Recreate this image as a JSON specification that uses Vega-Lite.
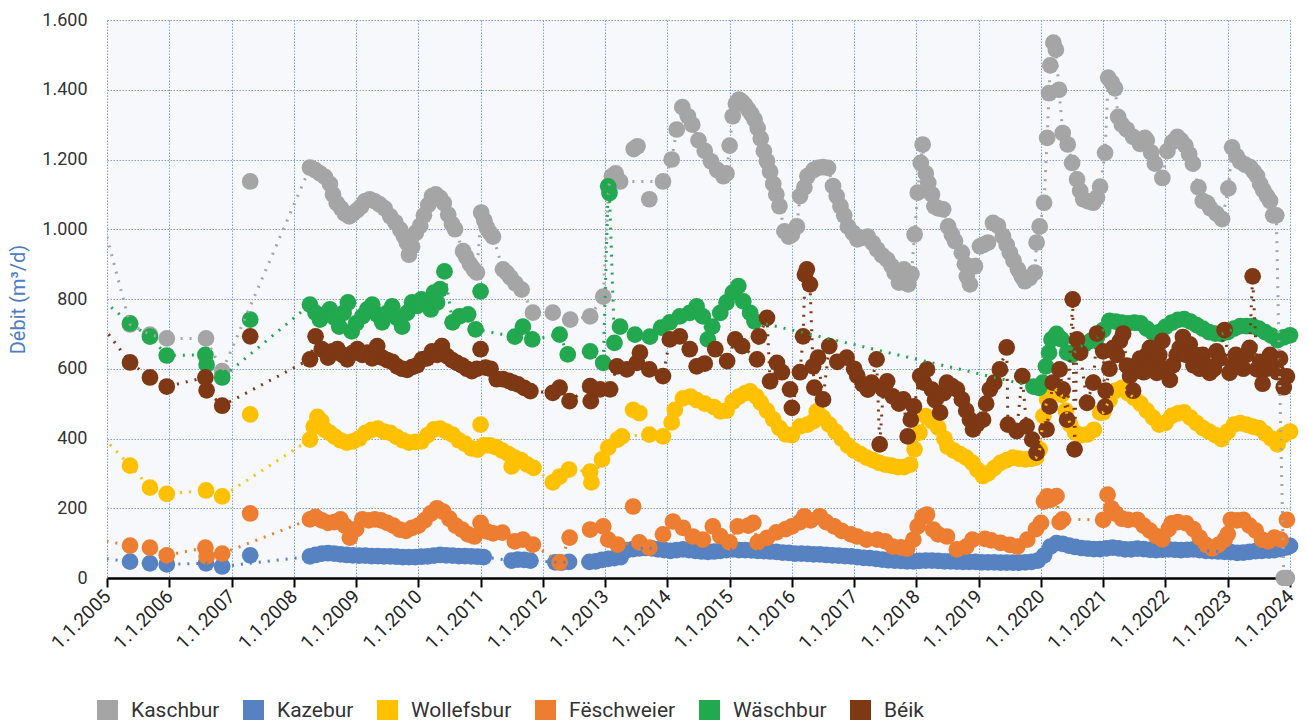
{
"$schema": "https://vega.github.io/schema/vega-lite/v6.json",
"width": 1183, "height": 558,
"autosize": {"type": "none"},
"padding": {"left": 107, "top": 20, "right": 17, "bottom": 142},
"background": "white",
"config": {"view": {"fill": "#F6F8FC", "stroke": null}, "font": "Roboto"},
"data": {"values": [
{"s":"Kaschbur","t":2004.85,"v":1078},{"s":"Kaschbur","t":2005.37,"v":727},{"s":"Kaschbur","t":2005.69,"v":698},{"s":"Kaschbur","t":2005.96,"v":687},{"s":"Kaschbur","t":2006.59,"v":687},{"s":"Kaschbur","t":2006.85,"v":593},{"s":"Kaschbur","t":2007.30,"v":1137,"spot":1},{"s":"Kaschbur","t":2008.26,"v":1177},{"s":"Kaschbur","t":2008.34,"v":1170},{"s":"Kaschbur","t":2008.42,"v":1160},{"s":"Kaschbur","t":2008.50,"v":1150},{"s":"Kaschbur","t":2008.58,"v":1130},{"s":"Kaschbur","t":2008.63,"v":1100},{"s":"Kaschbur","t":2008.69,"v":1075},{"s":"Kaschbur","t":2008.76,"v":1060},{"s":"Kaschbur","t":2008.82,"v":1045},{"s":"Kaschbur","t":2008.89,"v":1037},{"s":"Kaschbur","t":2008.95,"v":1045},{"s":"Kaschbur","t":2009.02,"v":1055},{"s":"Kaschbur","t":2009.08,"v":1065},{"s":"Kaschbur","t":2009.14,"v":1080},{"s":"Kaschbur","t":2009.22,"v":1086},{"s":"Kaschbur","t":2009.30,"v":1080},{"s":"Kaschbur","t":2009.38,"v":1071},{"s":"Kaschbur","t":2009.46,"v":1060},{"s":"Kaschbur","t":2009.55,"v":1037},{"s":"Kaschbur","t":2009.63,"v":1020},{"s":"Kaschbur","t":2009.71,"v":999},{"s":"Kaschbur","t":2009.77,"v":980},{"s":"Kaschbur","t":2009.82,"v":960},{"s":"Kaschbur","t":2009.85,"v":927},{"s":"Kaschbur","t":2009.90,"v":950},{"s":"Kaschbur","t":2009.96,"v":990},{"s":"Kaschbur","t":2010.03,"v":1010},{"s":"Kaschbur","t":2010.09,"v":1040},{"s":"Kaschbur","t":2010.16,"v":1070},{"s":"Kaschbur","t":2010.22,"v":1095},{"s":"Kaschbur","t":2010.28,"v":1100},{"s":"Kaschbur","t":2010.35,"v":1090},{"s":"Kaschbur","t":2010.41,"v":1075},{"s":"Kaschbur","t":2010.48,"v":1042},{"s":"Kaschbur","t":2010.54,"v":1015},{"s":"Kaschbur","t":2010.59,"v":1000},{"s":"Kaschbur","t":2010.72,"v":937},{"s":"Kaschbur","t":2010.77,"v":920},{"s":"Kaschbur","t":2010.83,"v":900},{"s":"Kaschbur","t":2010.89,"v":885},{"s":"Kaschbur","t":2010.94,"v":876},{"s":"Kaschbur","t":2011.01,"v":1048},{"s":"Kaschbur","t":2011.06,"v":1025},{"s":"Kaschbur","t":2011.10,"v":1005},{"s":"Kaschbur","t":2011.15,"v":990},{"s":"Kaschbur","t":2011.20,"v":979},{"s":"Kaschbur","t":2011.36,"v":885},{"s":"Kaschbur","t":2011.42,"v":875},{"s":"Kaschbur","t":2011.48,"v":862},{"s":"Kaschbur","t":2011.56,"v":845},{"s":"Kaschbur","t":2011.66,"v":827},{"s":"Kaschbur","t":2011.84,"v":761},{"s":"Kaschbur","t":2012.16,"v":761},{"s":"Kaschbur","t":2012.44,"v":741},{"s":"Kaschbur","t":2012.76,"v":750},{"s":"Kaschbur","t":2012.97,"v":807},{"s":"Kaschbur","t":2013.06,"v":1125},{"s":"Kaschbur","t":2013.11,"v":1152},{"s":"Kaschbur","t":2013.17,"v":1160},{"s":"Kaschbur","t":2013.24,"v":1137},{"s":"Kaschbur","t":2013.46,"v":1230,"spot":1},{"s":"Kaschbur","t":2013.52,"v":1238,"spot":1},{"s":"Kaschbur","t":2013.71,"v":1086,"spot":1},{"s":"Kaschbur","t":2013.93,"v":1137},{"s":"Kaschbur","t":2014.07,"v":1200},{"s":"Kaschbur","t":2014.15,"v":1286},{"s":"Kaschbur","t":2014.24,"v":1350},{"s":"Kaschbur","t":2014.33,"v":1324},{"s":"Kaschbur","t":2014.40,"v":1300},{"s":"Kaschbur","t":2014.50,"v":1255},{"s":"Kaschbur","t":2014.60,"v":1225},{"s":"Kaschbur","t":2014.70,"v":1195},{"s":"Kaschbur","t":2014.80,"v":1170},{"s":"Kaschbur","t":2014.90,"v":1152},{"s":"Kaschbur","t":2014.95,"v":1160},{"s":"Kaschbur","t":2015.00,"v":1240},{"s":"Kaschbur","t":2015.05,"v":1324},{"s":"Kaschbur","t":2015.10,"v":1360},{"s":"Kaschbur","t":2015.15,"v":1372},{"s":"Kaschbur","t":2015.20,"v":1365},{"s":"Kaschbur","t":2015.25,"v":1355},{"s":"Kaschbur","t":2015.30,"v":1343},{"s":"Kaschbur","t":2015.35,"v":1330},{"s":"Kaschbur","t":2015.40,"v":1315},{"s":"Kaschbur","t":2015.45,"v":1290},{"s":"Kaschbur","t":2015.50,"v":1260},{"s":"Kaschbur","t":2015.55,"v":1224},{"s":"Kaschbur","t":2015.60,"v":1195},{"s":"Kaschbur","t":2015.65,"v":1165},{"s":"Kaschbur","t":2015.70,"v":1130},{"s":"Kaschbur","t":2015.75,"v":1100},{"s":"Kaschbur","t":2015.80,"v":1066},{"s":"Kaschbur","t":2015.88,"v":994},{"s":"Kaschbur","t":2015.95,"v":979},{"s":"Kaschbur","t":2016.00,"v":985},{"s":"Kaschbur","t":2016.08,"v":1008},{"s":"Kaschbur","t":2016.13,"v":1095},{"s":"Kaschbur","t":2016.20,"v":1120},{"s":"Kaschbur","t":2016.25,"v":1152},{"s":"Kaschbur","t":2016.35,"v":1170},{"s":"Kaschbur","t":2016.42,"v":1176},{"s":"Kaschbur","t":2016.50,"v":1178},{"s":"Kaschbur","t":2016.58,"v":1176},{"s":"Kaschbur","t":2016.66,"v":1124},{"s":"Kaschbur","t":2016.72,"v":1095},{"s":"Kaschbur","t":2016.78,"v":1066},{"s":"Kaschbur","t":2016.84,"v":1040},{"s":"Kaschbur","t":2016.90,"v":1008},{"s":"Kaschbur","t":2016.98,"v":990},{"s":"Kaschbur","t":2017.05,"v":971},{"s":"Kaschbur","t":2017.12,"v":975},{"s":"Kaschbur","t":2017.22,"v":979},{"s":"Kaschbur","t":2017.30,"v":960},{"s":"Kaschbur","t":2017.37,"v":942},{"s":"Kaschbur","t":2017.45,"v":925},{"s":"Kaschbur","t":2017.53,"v":913},{"s":"Kaschbur","t":2017.60,"v":895},{"s":"Kaschbur","t":2017.65,"v":876},{"s":"Kaschbur","t":2017.72,"v":847},{"s":"Kaschbur","t":2017.80,"v":885},{"s":"Kaschbur","t":2017.87,"v":842},{"s":"Kaschbur","t":2017.92,"v":871},{"s":"Kaschbur","t":2017.97,"v":985},{"s":"Kaschbur","t":2018.02,"v":1105},{"s":"Kaschbur","t":2018.07,"v":1190},{"s":"Kaschbur","t":2018.10,"v":1243},{"s":"Kaschbur","t":2018.15,"v":1160},{"s":"Kaschbur","t":2018.19,"v":1133},{"s":"Kaschbur","t":2018.25,"v":1100},{"s":"Kaschbur","t":2018.29,"v":1066},{"s":"Kaschbur","t":2018.35,"v":1060},{"s":"Kaschbur","t":2018.43,"v":1057},{"s":"Kaschbur","t":2018.51,"v":1008},{"s":"Kaschbur","t":2018.57,"v":985},{"s":"Kaschbur","t":2018.62,"v":966},{"s":"Kaschbur","t":2018.73,"v":933},{"s":"Kaschbur","t":2018.78,"v":900},{"s":"Kaschbur","t":2018.81,"v":865},{"s":"Kaschbur","t":2018.86,"v":842},{"s":"Kaschbur","t":2018.94,"v":894},{"s":"Kaschbur","t":2019.02,"v":951},{"s":"Kaschbur","t":2019.08,"v":955},{"s":"Kaschbur","t":2019.15,"v":962},{"s":"Kaschbur","t":2019.23,"v":1018},{"s":"Kaschbur","t":2019.31,"v":1010},{"s":"Kaschbur","t":2019.39,"v":980},{"s":"Kaschbur","t":2019.45,"v":955},{"s":"Kaschbur","t":2019.50,"v":933},{"s":"Kaschbur","t":2019.56,"v":910},{"s":"Kaschbur","t":2019.63,"v":885},{"s":"Kaschbur","t":2019.69,"v":865},{"s":"Kaschbur","t":2019.74,"v":851},{"s":"Kaschbur","t":2019.82,"v":860},{"s":"Kaschbur","t":2019.90,"v":876},{"s":"Kaschbur","t":2019.93,"v":962},{"s":"Kaschbur","t":2019.98,"v":1008},{"s":"Kaschbur","t":2020.05,"v":1076},{"s":"Kaschbur","t":2020.10,"v":1262},{"s":"Kaschbur","t":2020.13,"v":1390},{"s":"Kaschbur","t":2020.15,"v":1470},{"s":"Kaschbur","t":2020.20,"v":1535},{"s":"Kaschbur","t":2020.24,"v":1515},{"s":"Kaschbur","t":2020.29,"v":1400},{"s":"Kaschbur","t":2020.35,"v":1276},{"s":"Kaschbur","t":2020.43,"v":1243},{"s":"Kaschbur","t":2020.50,"v":1190},{"s":"Kaschbur","t":2020.58,"v":1143},{"s":"Kaschbur","t":2020.63,"v":1110},{"s":"Kaschbur","t":2020.68,"v":1086},{"s":"Kaschbur","t":2020.76,"v":1080},{"s":"Kaschbur","t":2020.84,"v":1076},{"s":"Kaschbur","t":2020.90,"v":1091},{"s":"Kaschbur","t":2020.95,"v":1122},{"s":"Kaschbur","t":2021.03,"v":1219},{"s":"Kaschbur","t":2021.08,"v":1435},{"s":"Kaschbur","t":2021.14,"v":1420},{"s":"Kaschbur","t":2021.19,"v":1404},{"s":"Kaschbur","t":2021.24,"v":1322},{"s":"Kaschbur","t":2021.30,"v":1300},{"s":"Kaschbur","t":2021.38,"v":1286},{"s":"Kaschbur","t":2021.48,"v":1265},{"s":"Kaschbur","t":2021.59,"v":1245},{"s":"Kaschbur","t":2021.67,"v":1262},{"s":"Kaschbur","t":2021.70,"v":1255},{"s":"Kaschbur","t":2021.77,"v":1220},{"s":"Kaschbur","t":2021.83,"v":1188},{"s":"Kaschbur","t":2021.95,"v":1147},{"s":"Kaschbur","t":2022.03,"v":1224},{"s":"Kaschbur","t":2022.11,"v":1250},{"s":"Kaschbur","t":2022.19,"v":1265},{"s":"Kaschbur","t":2022.25,"v":1255},{"s":"Kaschbur","t":2022.32,"v":1240},{"s":"Kaschbur","t":2022.38,"v":1215},{"s":"Kaschbur","t":2022.44,"v":1188},{"s":"Kaschbur","t":2022.53,"v":1120},{"s":"Kaschbur","t":2022.60,"v":1081},{"s":"Kaschbur","t":2022.67,"v":1075},{"s":"Kaschbur","t":2022.72,"v":1060},{"s":"Kaschbur","t":2022.82,"v":1045},{"s":"Kaschbur","t":2022.91,"v":1029},{"s":"Kaschbur","t":2023.01,"v":1117},{"s":"Kaschbur","t":2023.07,"v":1235},{"s":"Kaschbur","t":2023.14,"v":1210},{"s":"Kaschbur","t":2023.20,"v":1194},{"s":"Kaschbur","t":2023.28,"v":1185},{"s":"Kaschbur","t":2023.36,"v":1178},{"s":"Kaschbur","t":2023.42,"v":1165},{"s":"Kaschbur","t":2023.47,"v":1153},{"s":"Kaschbur","t":2023.52,"v":1130},{"s":"Kaschbur","t":2023.57,"v":1112},{"s":"Kaschbur","t":2023.63,"v":1095},{"s":"Kaschbur","t":2023.68,"v":1081},{"s":"Kaschbur","t":2023.73,"v":1040},{"s":"Kaschbur","t":2023.78,"v":1040},{"s":"Kaschbur","t":2023.90,"v":0},{"s":"Kaschbur","t":2023.95,"v":0},
{"s":"Kazebur","t":2004.85,"v":58},{"s":"Kazebur","t":2005.37,"v":47},{"s":"Kazebur","t":2005.69,"v":42},{"s":"Kazebur","t":2005.96,"v":39},{"s":"Kazebur","t":2006.59,"v":42},{"s":"Kazebur","t":2006.85,"v":33},{"s":"Kazebur","t":2007.30,"v":65,"spot":1},{"s":"Kazebur","t":2008.26,"v":62},{"s":"Kazebur","t":2008.35,"v":66},{"s":"Kazebur","t":2008.45,"v":70},{"s":"Kazebur","t":2008.55,"v":71},{"s":"Kazebur","t":2008.65,"v":70},{"s":"Kazebur","t":2008.75,"v":68},{"s":"Kazebur","t":2008.85,"v":66},{"s":"Kazebur","t":2008.95,"v":65},{"s":"Kazebur","t":2009.05,"v":64},{"s":"Kazebur","t":2009.15,"v":64},{"s":"Kazebur","t":2009.25,"v":63},{"s":"Kazebur","t":2009.35,"v":63},{"s":"Kazebur","t":2009.45,"v":62},{"s":"Kazebur","t":2009.55,"v":62},{"s":"Kazebur","t":2009.65,"v":61},{"s":"Kazebur","t":2009.75,"v":60},{"s":"Kazebur","t":2009.85,"v":60},{"s":"Kazebur","t":2009.95,"v":60},{"s":"Kazebur","t":2010.05,"v":61},{"s":"Kazebur","t":2010.15,"v":62},{"s":"Kazebur","t":2010.25,"v":64},{"s":"Kazebur","t":2010.35,"v":66},{"s":"Kazebur","t":2010.45,"v":65},{"s":"Kazebur","t":2010.55,"v":64},{"s":"Kazebur","t":2010.65,"v":63},{"s":"Kazebur","t":2010.75,"v":63},{"s":"Kazebur","t":2010.85,"v":62},{"s":"Kazebur","t":2010.95,"v":61},{"s":"Kazebur","t":2011.05,"v":60},{"s":"Kazebur","t":2011.50,"v":50},{"s":"Kazebur","t":2011.60,"v":53},{"s":"Kazebur","t":2011.70,"v":52},{"s":"Kazebur","t":2011.80,"v":50},{"s":"Kazebur","t":2012.20,"v":45},{"s":"Kazebur","t":2012.30,"v":44},{"s":"Kazebur","t":2012.42,"v":46},{"s":"Kazebur","t":2012.75,"v":46},{"s":"Kazebur","t":2012.85,"v":48},{"s":"Kazebur","t":2012.95,"v":52},{"s":"Kazebur","t":2013.05,"v":55},{"s":"Kazebur","t":2013.15,"v":57},{"s":"Kazebur","t":2013.25,"v":60},{"s":"Kazebur","t":2013.35,"v":80},{"s":"Kazebur","t":2013.45,"v":83},{"s":"Kazebur","t":2013.55,"v":85},{"s":"Kazebur","t":2013.65,"v":86},{"s":"Kazebur","t":2013.75,"v":85},{"s":"Kazebur","t":2013.85,"v":82},{"s":"Kazebur","t":2013.95,"v":80},{"s":"Kazebur","t":2014.05,"v":78},{"s":"Kazebur","t":2014.15,"v":80},{"s":"Kazebur","t":2014.25,"v":82},{"s":"Kazebur","t":2014.35,"v":80},{"s":"Kazebur","t":2014.45,"v":78},{"s":"Kazebur","t":2014.55,"v":76},{"s":"Kazebur","t":2014.65,"v":75},{"s":"Kazebur","t":2014.75,"v":76},{"s":"Kazebur","t":2014.85,"v":78},{"s":"Kazebur","t":2014.95,"v":80},{"s":"Kazebur","t":2015.05,"v":82},{"s":"Kazebur","t":2015.15,"v":80},{"s":"Kazebur","t":2015.25,"v":80},{"s":"Kazebur","t":2015.35,"v":79},{"s":"Kazebur","t":2015.45,"v":78},{"s":"Kazebur","t":2015.55,"v":77},{"s":"Kazebur","t":2015.65,"v":76},{"s":"Kazebur","t":2015.75,"v":75},{"s":"Kazebur","t":2015.85,"v":73},{"s":"Kazebur","t":2015.95,"v":72},{"s":"Kazebur","t":2016.05,"v":70},{"s":"Kazebur","t":2016.15,"v":70},{"s":"Kazebur","t":2016.25,"v":69},{"s":"Kazebur","t":2016.35,"v":68},{"s":"Kazebur","t":2016.45,"v":68},{"s":"Kazebur","t":2016.55,"v":66},{"s":"Kazebur","t":2016.65,"v":65},{"s":"Kazebur","t":2016.75,"v":64},{"s":"Kazebur","t":2016.85,"v":63},{"s":"Kazebur","t":2016.95,"v":62},{"s":"Kazebur","t":2017.05,"v":60},{"s":"Kazebur","t":2017.15,"v":58},{"s":"Kazebur","t":2017.25,"v":57},{"s":"Kazebur","t":2017.35,"v":55},{"s":"Kazebur","t":2017.45,"v":53},{"s":"Kazebur","t":2017.55,"v":51},{"s":"Kazebur","t":2017.65,"v":50},{"s":"Kazebur","t":2017.75,"v":49},{"s":"Kazebur","t":2017.85,"v":48},{"s":"Kazebur","t":2017.95,"v":48},{"s":"Kazebur","t":2018.05,"v":49},{"s":"Kazebur","t":2018.15,"v":50},{"s":"Kazebur","t":2018.25,"v":50},{"s":"Kazebur","t":2018.35,"v":49},{"s":"Kazebur","t":2018.45,"v":48},{"s":"Kazebur","t":2018.55,"v":48},{"s":"Kazebur","t":2018.65,"v":47},{"s":"Kazebur","t":2018.75,"v":46},{"s":"Kazebur","t":2018.85,"v":46},{"s":"Kazebur","t":2018.95,"v":46},{"s":"Kazebur","t":2019.05,"v":45},{"s":"Kazebur","t":2019.15,"v":45},{"s":"Kazebur","t":2019.25,"v":45},{"s":"Kazebur","t":2019.35,"v":44},{"s":"Kazebur","t":2019.45,"v":44},{"s":"Kazebur","t":2019.55,"v":44},{"s":"Kazebur","t":2019.65,"v":44},{"s":"Kazebur","t":2019.75,"v":45},{"s":"Kazebur","t":2019.85,"v":46},{"s":"Kazebur","t":2019.95,"v":50},{"s":"Kazebur","t":2020.05,"v":65},{"s":"Kazebur","t":2020.15,"v":90},{"s":"Kazebur","t":2020.25,"v":100},{"s":"Kazebur","t":2020.35,"v":98},{"s":"Kazebur","t":2020.45,"v":93},{"s":"Kazebur","t":2020.55,"v":89},{"s":"Kazebur","t":2020.65,"v":86},{"s":"Kazebur","t":2020.75,"v":84},{"s":"Kazebur","t":2020.85,"v":83},{"s":"Kazebur","t":2020.95,"v":83},{"s":"Kazebur","t":2021.05,"v":85},{"s":"Kazebur","t":2021.15,"v":87},{"s":"Kazebur","t":2021.25,"v":85},{"s":"Kazebur","t":2021.35,"v":82},{"s":"Kazebur","t":2021.45,"v":82},{"s":"Kazebur","t":2021.55,"v":84},{"s":"Kazebur","t":2021.65,"v":83},{"s":"Kazebur","t":2021.75,"v":81},{"s":"Kazebur","t":2021.85,"v":80},{"s":"Kazebur","t":2021.95,"v":81},{"s":"Kazebur","t":2022.05,"v":82},{"s":"Kazebur","t":2022.15,"v":81},{"s":"Kazebur","t":2022.25,"v":80},{"s":"Kazebur","t":2022.35,"v":81},{"s":"Kazebur","t":2022.45,"v":82},{"s":"Kazebur","t":2022.55,"v":80},{"s":"Kazebur","t":2022.65,"v":78},{"s":"Kazebur","t":2022.75,"v":77},{"s":"Kazebur","t":2022.85,"v":76},{"s":"Kazebur","t":2022.95,"v":75},{"s":"Kazebur","t":2023.05,"v":74},{"s":"Kazebur","t":2023.15,"v":72},{"s":"Kazebur","t":2023.25,"v":73},{"s":"Kazebur","t":2023.35,"v":75},{"s":"Kazebur","t":2023.45,"v":77},{"s":"Kazebur","t":2023.55,"v":78},{"s":"Kazebur","t":2023.65,"v":79},{"s":"Kazebur","t":2023.75,"v":80},{"s":"Kazebur","t":2023.85,"v":83},{"s":"Kazebur","t":2023.95,"v":88},{"s":"Kazebur","t":2024.00,"v":92},
{"s":"Wollefsbur","t":2004.85,"v":420},{"s":"Wollefsbur","t":2005.37,"v":322},{"s":"Wollefsbur","t":2005.69,"v":259},{"s":"Wollefsbur","t":2005.96,"v":241},{"s":"Wollefsbur","t":2006.59,"v":251},{"s":"Wollefsbur","t":2006.85,"v":234},{"s":"Wollefsbur","t":2007.30,"v":469,"spot":1},{"s":"Wollefsbur","t":2008.26,"v":397},{"s":"Wollefsbur","t":2008.32,"v":434},{"s":"Wollefsbur","t":2008.38,"v":462},{"s":"Wollefsbur","t":2008.44,"v":450},{"s":"Wollefsbur","t":2008.50,"v":425},{"s":"Wollefsbur","t":2008.58,"v":416},{"s":"Wollefsbur","t":2008.66,"v":405},{"s":"Wollefsbur","t":2008.75,"v":395},{"s":"Wollefsbur","t":2008.85,"v":388},{"s":"Wollefsbur","t":2008.95,"v":392},{"s":"Wollefsbur","t":2009.05,"v":400},{"s":"Wollefsbur","t":2009.15,"v":416},{"s":"Wollefsbur","t":2009.25,"v":425},{"s":"Wollefsbur","t":2009.35,"v":428},{"s":"Wollefsbur","t":2009.45,"v":420},{"s":"Wollefsbur","t":2009.55,"v":416},{"s":"Wollefsbur","t":2009.65,"v":405},{"s":"Wollefsbur","t":2009.75,"v":395},{"s":"Wollefsbur","t":2009.85,"v":388},{"s":"Wollefsbur","t":2009.95,"v":390},{"s":"Wollefsbur","t":2010.05,"v":392},{"s":"Wollefsbur","t":2010.15,"v":410},{"s":"Wollefsbur","t":2010.25,"v":426},{"s":"Wollefsbur","t":2010.35,"v":428},{"s":"Wollefsbur","t":2010.45,"v":420},{"s":"Wollefsbur","t":2010.55,"v":411},{"s":"Wollefsbur","t":2010.65,"v":395},{"s":"Wollefsbur","t":2010.75,"v":385},{"s":"Wollefsbur","t":2010.85,"v":372},{"s":"Wollefsbur","t":2010.95,"v":368},{"s":"Wollefsbur","t":2011.00,"v":440,"spot":1},{"s":"Wollefsbur","t":2011.05,"v":380},{"s":"Wollefsbur","t":2011.15,"v":380},{"s":"Wollefsbur","t":2011.25,"v":375},{"s":"Wollefsbur","t":2011.35,"v":365},{"s":"Wollefsbur","t":2011.45,"v":355},{"s":"Wollefsbur","t":2011.50,"v":320},{"s":"Wollefsbur","t":2011.55,"v":345},{"s":"Wollefsbur","t":2011.65,"v":338},{"s":"Wollefsbur","t":2011.75,"v":325},{"s":"Wollefsbur","t":2011.85,"v":316},{"s":"Wollefsbur","t":2012.16,"v":274},{"s":"Wollefsbur","t":2012.27,"v":291},{"s":"Wollefsbur","t":2012.42,"v":311},{"s":"Wollefsbur","t":2012.76,"v":305},{"s":"Wollefsbur","t":2012.78,"v":274},{"s":"Wollefsbur","t":2012.95,"v":340},{"s":"Wollefsbur","t":2013.05,"v":374},{"s":"Wollefsbur","t":2013.20,"v":397},{"s":"Wollefsbur","t":2013.27,"v":406},{"s":"Wollefsbur","t":2013.45,"v":482,"spot":1},{"s":"Wollefsbur","t":2013.55,"v":473,"spot":1},{"s":"Wollefsbur","t":2013.71,"v":411},{"s":"Wollefsbur","t":2013.93,"v":406},{"s":"Wollefsbur","t":2014.07,"v":446},{"s":"Wollefsbur","t":2014.12,"v":482},{"s":"Wollefsbur","t":2014.25,"v":515},{"s":"Wollefsbur","t":2014.37,"v":520},{"s":"Wollefsbur","t":2014.47,"v":510},{"s":"Wollefsbur","t":2014.60,"v":500},{"s":"Wollefsbur","t":2014.75,"v":490},{"s":"Wollefsbur","t":2014.85,"v":478},{"s":"Wollefsbur","t":2014.95,"v":480},{"s":"Wollefsbur","t":2015.05,"v":506},{"s":"Wollefsbur","t":2015.15,"v":520},{"s":"Wollefsbur","t":2015.25,"v":530},{"s":"Wollefsbur","t":2015.33,"v":535},{"s":"Wollefsbur","t":2015.43,"v":520},{"s":"Wollefsbur","t":2015.50,"v":503},{"s":"Wollefsbur","t":2015.60,"v":480},{"s":"Wollefsbur","t":2015.70,"v":455},{"s":"Wollefsbur","t":2015.80,"v":430},{"s":"Wollefsbur","t":2015.90,"v":412},{"s":"Wollefsbur","t":2016.00,"v":410},{"s":"Wollefsbur","t":2016.13,"v":435},{"s":"Wollefsbur","t":2016.25,"v":440},{"s":"Wollefsbur","t":2016.35,"v":450},{"s":"Wollefsbur","t":2016.40,"v":478},{"s":"Wollefsbur","t":2016.50,"v":460},{"s":"Wollefsbur","t":2016.60,"v":440},{"s":"Wollefsbur","t":2016.70,"v":420},{"s":"Wollefsbur","t":2016.80,"v":400},{"s":"Wollefsbur","t":2016.90,"v":380},{"s":"Wollefsbur","t":2017.00,"v":365},{"s":"Wollefsbur","t":2017.10,"v":355},{"s":"Wollefsbur","t":2017.20,"v":345},{"s":"Wollefsbur","t":2017.30,"v":338},{"s":"Wollefsbur","t":2017.40,"v":330},{"s":"Wollefsbur","t":2017.50,"v":325},{"s":"Wollefsbur","t":2017.60,"v":322},{"s":"Wollefsbur","t":2017.70,"v":318},{"s":"Wollefsbur","t":2017.80,"v":318},{"s":"Wollefsbur","t":2017.90,"v":325},{"s":"Wollefsbur","t":2017.97,"v":369},{"s":"Wollefsbur","t":2018.05,"v":417},{"s":"Wollefsbur","t":2018.15,"v":464},{"s":"Wollefsbur","t":2018.25,"v":450},{"s":"Wollefsbur","t":2018.35,"v":431},{"s":"Wollefsbur","t":2018.45,"v":400},{"s":"Wollefsbur","t":2018.50,"v":377},{"s":"Wollefsbur","t":2018.60,"v":365},{"s":"Wollefsbur","t":2018.70,"v":355},{"s":"Wollefsbur","t":2018.80,"v":345},{"s":"Wollefsbur","t":2018.90,"v":330},{"s":"Wollefsbur","t":2018.98,"v":310},{"s":"Wollefsbur","t":2019.07,"v":292},{"s":"Wollefsbur","t":2019.15,"v":300},{"s":"Wollefsbur","t":2019.25,"v":315},{"s":"Wollefsbur","t":2019.35,"v":330},{"s":"Wollefsbur","t":2019.45,"v":338},{"s":"Wollefsbur","t":2019.55,"v":345},{"s":"Wollefsbur","t":2019.65,"v":342},{"s":"Wollefsbur","t":2019.75,"v":340},{"s":"Wollefsbur","t":2019.85,"v":342},{"s":"Wollefsbur","t":2019.92,"v":345},{"s":"Wollefsbur","t":2019.98,"v":369},{"s":"Wollefsbur","t":2020.04,"v":464},{"s":"Wollefsbur","t":2020.10,"v":512},{"s":"Wollefsbur","t":2020.18,"v":530},{"s":"Wollefsbur","t":2020.25,"v":540},{"s":"Wollefsbur","t":2020.33,"v":525},{"s":"Wollefsbur","t":2020.40,"v":480},{"s":"Wollefsbur","t":2020.47,"v":440},{"s":"Wollefsbur","t":2020.55,"v":417},{"s":"Wollefsbur","t":2020.65,"v":410},{"s":"Wollefsbur","t":2020.75,"v":412},{"s":"Wollefsbur","t":2020.85,"v":425},{"s":"Wollefsbur","t":2020.95,"v":474},{"s":"Wollefsbur","t":2021.00,"v":475},{"s":"Wollefsbur","t":2021.10,"v":510},{"s":"Wollefsbur","t":2021.20,"v":537},{"s":"Wollefsbur","t":2021.30,"v":545},{"s":"Wollefsbur","t":2021.40,"v":530},{"s":"Wollefsbur","t":2021.50,"v":516},{"s":"Wollefsbur","t":2021.60,"v":500},{"s":"Wollefsbur","t":2021.70,"v":480},{"s":"Wollefsbur","t":2021.80,"v":460},{"s":"Wollefsbur","t":2021.90,"v":440},{"s":"Wollefsbur","t":2022.00,"v":445},{"s":"Wollefsbur","t":2022.10,"v":465},{"s":"Wollefsbur","t":2022.20,"v":472},{"s":"Wollefsbur","t":2022.30,"v":475},{"s":"Wollefsbur","t":2022.40,"v":460},{"s":"Wollefsbur","t":2022.50,"v":444},{"s":"Wollefsbur","t":2022.60,"v":430},{"s":"Wollefsbur","t":2022.70,"v":420},{"s":"Wollefsbur","t":2022.80,"v":410},{"s":"Wollefsbur","t":2022.90,"v":398},{"s":"Wollefsbur","t":2023.00,"v":420},{"s":"Wollefsbur","t":2023.10,"v":440},{"s":"Wollefsbur","t":2023.20,"v":444},{"s":"Wollefsbur","t":2023.30,"v":440},{"s":"Wollefsbur","t":2023.40,"v":434},{"s":"Wollefsbur","t":2023.50,"v":430},{"s":"Wollefsbur","t":2023.60,"v":415},{"s":"Wollefsbur","t":2023.70,"v":400},{"s":"Wollefsbur","t":2023.80,"v":383},{"s":"Wollefsbur","t":2023.90,"v":410},{"s":"Wollefsbur","t":2024.00,"v":420},
{"s":"Fëschweier","t":2004.85,"v":110},{"s":"Fëschweier","t":2005.37,"v":93},{"s":"Fëschweier","t":2005.69,"v":87},{"s":"Fëschweier","t":2005.96,"v":65},{"s":"Fëschweier","t":2006.58,"v":87},{"s":"Fëschweier","t":2006.60,"v":62},{"s":"Fëschweier","t":2006.85,"v":70},{"s":"Fëschweier","t":2007.30,"v":185,"spot":1},{"s":"Fëschweier","t":2008.26,"v":168},{"s":"Fëschweier","t":2008.35,"v":175},{"s":"Fëschweier","t":2008.45,"v":165},{"s":"Fëschweier","t":2008.55,"v":158},{"s":"Fëschweier","t":2008.65,"v":160},{"s":"Fëschweier","t":2008.75,"v":168},{"s":"Fëschweier","t":2008.82,"v":150},{"s":"Fëschweier","t":2008.90,"v":116},{"s":"Fëschweier","t":2009.00,"v":140},{"s":"Fëschweier","t":2009.10,"v":168},{"s":"Fëschweier","t":2009.20,"v":165},{"s":"Fëschweier","t":2009.30,"v":168},{"s":"Fëschweier","t":2009.40,"v":165},{"s":"Fëschweier","t":2009.50,"v":158},{"s":"Fëschweier","t":2009.60,"v":150},{"s":"Fëschweier","t":2009.70,"v":139},{"s":"Fëschweier","t":2009.80,"v":135},{"s":"Fëschweier","t":2009.90,"v":144},{"s":"Fëschweier","t":2010.00,"v":150},{"s":"Fëschweier","t":2010.10,"v":165},{"s":"Fëschweier","t":2010.20,"v":185},{"s":"Fëschweier","t":2010.30,"v":200},{"s":"Fëschweier","t":2010.40,"v":190},{"s":"Fëschweier","t":2010.50,"v":170},{"s":"Fëschweier","t":2010.60,"v":150},{"s":"Fëschweier","t":2010.70,"v":139},{"s":"Fëschweier","t":2010.80,"v":125},{"s":"Fëschweier","t":2010.90,"v":119},{"s":"Fëschweier","t":2011.00,"v":158,"spot":1},{"s":"Fëschweier","t":2011.10,"v":134},{"s":"Fëschweier","t":2011.20,"v":128},{"s":"Fëschweier","t":2011.35,"v":130},{"s":"Fëschweier","t":2011.55,"v":105},{"s":"Fëschweier","t":2011.68,"v":110},{"s":"Fëschweier","t":2011.84,"v":96},{"s":"Fëschweier","t":2012.27,"v":45},{"s":"Fëschweier","t":2012.43,"v":116},{"s":"Fëschweier","t":2012.76,"v":139},{"s":"Fëschweier","t":2012.97,"v":148},{"s":"Fëschweier","t":2013.05,"v":110},{"s":"Fëschweier","t":2013.20,"v":96},{"s":"Fëschweier","t":2013.45,"v":205,"spot":1},{"s":"Fëschweier","t":2013.55,"v":102},{"s":"Fëschweier","t":2013.71,"v":87},{"s":"Fëschweier","t":2013.93,"v":125},{"s":"Fëschweier","t":2014.09,"v":162},{"s":"Fëschweier","t":2014.25,"v":144},{"s":"Fëschweier","t":2014.41,"v":119},{"s":"Fëschweier","t":2014.57,"v":110},{"s":"Fëschweier","t":2014.73,"v":148},{"s":"Fëschweier","t":2014.85,"v":120},{"s":"Fëschweier","t":2015.00,"v":102},{"s":"Fëschweier","t":2015.13,"v":148},{"s":"Fëschweier","t":2015.30,"v":150},{"s":"Fëschweier","t":2015.38,"v":158},{"s":"Fëschweier","t":2015.45,"v":102},{"s":"Fëschweier","t":2015.60,"v":115},{"s":"Fëschweier","t":2015.75,"v":131},{"s":"Fëschweier","t":2015.90,"v":140},{"s":"Fëschweier","t":2016.00,"v":148},{"s":"Fëschweier","t":2016.13,"v":160},{"s":"Fëschweier","t":2016.20,"v":177},{"s":"Fëschweier","t":2016.30,"v":165},{"s":"Fëschweier","t":2016.45,"v":177},{"s":"Fëschweier","t":2016.55,"v":160},{"s":"Fëschweier","t":2016.68,"v":148},{"s":"Fëschweier","t":2016.80,"v":135},{"s":"Fëschweier","t":2016.95,"v":125},{"s":"Fëschweier","t":2017.05,"v":119},{"s":"Fëschweier","t":2017.20,"v":110},{"s":"Fëschweier","t":2017.37,"v":110},{"s":"Fëschweier","t":2017.50,"v":105},{"s":"Fëschweier","t":2017.62,"v":90},{"s":"Fëschweier","t":2017.75,"v":88},{"s":"Fëschweier","t":2017.85,"v":84},{"s":"Fëschweier","t":2017.95,"v":110},{"s":"Fëschweier","t":2018.02,"v":148},{"s":"Fëschweier","t":2018.10,"v":175},{"s":"Fëschweier","t":2018.17,"v":182},{"s":"Fëschweier","t":2018.27,"v":139},{"s":"Fëschweier","t":2018.35,"v":125},{"s":"Fëschweier","t":2018.49,"v":119},{"s":"Fëschweier","t":2018.65,"v":82},{"s":"Fëschweier","t":2018.80,"v":90},{"s":"Fëschweier","t":2018.90,"v":110},{"s":"Fëschweier","t":2019.10,"v":112},{"s":"Fëschweier","t":2019.20,"v":108},{"s":"Fëschweier","t":2019.35,"v":101},{"s":"Fëschweier","t":2019.50,"v":95},{"s":"Fëschweier","t":2019.62,"v":90},{"s":"Fëschweier","t":2019.78,"v":110},{"s":"Fëschweier","t":2019.92,"v":140},{"s":"Fëschweier","t":2020.00,"v":158},{"s":"Fëschweier","t":2020.05,"v":220},{"s":"Fëschweier","t":2020.10,"v":234},{"s":"Fëschweier","t":2020.16,"v":225},{"s":"Fëschweier","t":2020.20,"v":230},{"s":"Fëschweier","t":2020.25,"v":235},{"s":"Fëschweier","t":2020.30,"v":160},{"s":"Fëschweier","t":2020.35,"v":168},{"s":"Fëschweier","t":2021.00,"v":167},{"s":"Fëschweier","t":2021.07,"v":239},{"s":"Fëschweier","t":2021.13,"v":200},{"s":"Fëschweier","t":2021.20,"v":185},{"s":"Fëschweier","t":2021.30,"v":170},{"s":"Fëschweier","t":2021.40,"v":167},{"s":"Fëschweier","t":2021.55,"v":167},{"s":"Fëschweier","t":2021.65,"v":150},{"s":"Fëschweier","t":2021.75,"v":136},{"s":"Fëschweier","t":2021.85,"v":120},{"s":"Fëschweier","t":2021.95,"v":111},{"s":"Fëschweier","t":2022.05,"v":140},{"s":"Fëschweier","t":2022.10,"v":157},{"s":"Fëschweier","t":2022.20,"v":160},{"s":"Fëschweier","t":2022.33,"v":157},{"s":"Fëschweier","t":2022.45,"v":140},{"s":"Fëschweier","t":2022.55,"v":116},{"s":"Fëschweier","t":2022.65,"v":95},{"s":"Fëschweier","t":2022.75,"v":85},{"s":"Fëschweier","t":2022.85,"v":95},{"s":"Fëschweier","t":2022.95,"v":110},{"s":"Fëschweier","t":2023.00,"v":126},{"s":"Fëschweier","t":2023.05,"v":167},{"s":"Fëschweier","t":2023.15,"v":165},{"s":"Fëschweier","t":2023.25,"v":167},{"s":"Fëschweier","t":2023.35,"v":150},{"s":"Fëschweier","t":2023.45,"v":136},{"s":"Fëschweier","t":2023.55,"v":110},{"s":"Fëschweier","t":2023.65,"v":105},{"s":"Fëschweier","t":2023.75,"v":116},{"s":"Fëschweier","t":2023.85,"v":110},{"s":"Fëschweier","t":2023.95,"v":167},
{"s":"Wäschbur","t":2004.85,"v":810},{"s":"Wäschbur","t":2005.37,"v":730},{"s":"Wäschbur","t":2005.69,"v":692},{"s":"Wäschbur","t":2005.96,"v":638},{"s":"Wäschbur","t":2006.58,"v":640},{"s":"Wäschbur","t":2006.60,"v":612},{"s":"Wäschbur","t":2006.85,"v":575},{"s":"Wäschbur","t":2007.30,"v":741,"spot":1},{"s":"Wäschbur","t":2008.26,"v":784},{"s":"Wäschbur","t":2008.35,"v":760},{"s":"Wäschbur","t":2008.42,"v":741},{"s":"Wäschbur","t":2008.50,"v":755},{"s":"Wäschbur","t":2008.58,"v":770},{"s":"Wäschbur","t":2008.66,"v":745},{"s":"Wäschbur","t":2008.73,"v":721},{"s":"Wäschbur","t":2008.80,"v":760},{"s":"Wäschbur","t":2008.87,"v":790},{"s":"Wäschbur","t":2008.93,"v":707},{"s":"Wäschbur","t":2009.00,"v":730},{"s":"Wäschbur","t":2009.10,"v":750},{"s":"Wäschbur","t":2009.18,"v":770},{"s":"Wäschbur","t":2009.26,"v":784},{"s":"Wäschbur","t":2009.34,"v":755},{"s":"Wäschbur","t":2009.42,"v":733},{"s":"Wäschbur","t":2009.50,"v":760},{"s":"Wäschbur","t":2009.58,"v":779},{"s":"Wäschbur","t":2009.66,"v":745},{"s":"Wäschbur","t":2009.74,"v":721},{"s":"Wäschbur","t":2009.82,"v":760},{"s":"Wäschbur","t":2009.90,"v":790},{"s":"Wäschbur","t":2009.98,"v":780},{"s":"Wäschbur","t":2010.05,"v":799},{"s":"Wäschbur","t":2010.13,"v":790},{"s":"Wäschbur","t":2010.20,"v":770},{"s":"Wäschbur","t":2010.25,"v":818},{"s":"Wäschbur","t":2010.30,"v":790},{"s":"Wäschbur","t":2010.35,"v":828},{"s":"Wäschbur","t":2010.42,"v":879},{"s":"Wäschbur","t":2010.55,"v":733},{"s":"Wäschbur","t":2010.66,"v":750},{"s":"Wäschbur","t":2010.80,"v":756},{"s":"Wäschbur","t":2010.92,"v":713},{"s":"Wäschbur","t":2011.00,"v":822,"spot":1},{"s":"Wäschbur","t":2011.55,"v":692},{"s":"Wäschbur","t":2011.68,"v":721},{"s":"Wäschbur","t":2011.83,"v":684},{"s":"Wäschbur","t":2012.27,"v":698},{"s":"Wäschbur","t":2012.40,"v":641},{"s":"Wäschbur","t":2012.76,"v":650},{"s":"Wäschbur","t":2012.97,"v":617},{"s":"Wäschbur","t":2013.05,"v":1123},{"s":"Wäschbur","t":2013.07,"v":1104},{"s":"Wäschbur","t":2013.15,"v":674},{"s":"Wäschbur","t":2013.24,"v":721},{"s":"Wäschbur","t":2013.48,"v":698},{"s":"Wäschbur","t":2013.72,"v":692},{"s":"Wäschbur","t":2013.90,"v":718},{"s":"Wäschbur","t":2014.04,"v":733},{"s":"Wäschbur","t":2014.20,"v":750},{"s":"Wäschbur","t":2014.36,"v":760},{"s":"Wäschbur","t":2014.47,"v":779},{"s":"Wäschbur","t":2014.57,"v":750},{"s":"Wäschbur","t":2014.65,"v":684},{"s":"Wäschbur","t":2014.72,"v":721},{"s":"Wäschbur","t":2014.85,"v":760},{"s":"Wäschbur","t":2014.95,"v":790},{"s":"Wäschbur","t":2015.05,"v":818},{"s":"Wäschbur","t":2015.14,"v":837},{"s":"Wäschbur","t":2015.22,"v":793},{"s":"Wäschbur","t":2015.33,"v":760},{"s":"Wäschbur","t":2015.40,"v":736},{"s":"Wäschbur","t":2019.88,"v":549},{"s":"Wäschbur","t":2019.97,"v":545},{"s":"Wäschbur","t":2020.03,"v":560},{"s":"Wäschbur","t":2020.08,"v":607},{"s":"Wäschbur","t":2020.13,"v":646},{"s":"Wäschbur","t":2020.17,"v":684},{"s":"Wäschbur","t":2020.25,"v":700},{"s":"Wäschbur","t":2020.33,"v":684},{"s":"Wäschbur","t":2020.42,"v":646},{"s":"Wäschbur","t":2020.50,"v":640},{"s":"Wäschbur","t":2020.60,"v":660},{"s":"Wäschbur","t":2020.70,"v":670},{"s":"Wäschbur","t":2020.80,"v":680},{"s":"Wäschbur","t":2020.90,"v":690},{"s":"Wäschbur","t":2021.00,"v":711},{"s":"Wäschbur","t":2021.10,"v":737},{"s":"Wäschbur","t":2021.20,"v":735},{"s":"Wäschbur","t":2021.30,"v":732},{"s":"Wäschbur","t":2021.40,"v":730},{"s":"Wäschbur","t":2021.50,"v":732},{"s":"Wäschbur","t":2021.60,"v":730},{"s":"Wäschbur","t":2021.70,"v":715},{"s":"Wäschbur","t":2021.80,"v":703},{"s":"Wäschbur","t":2021.90,"v":705},{"s":"Wäschbur","t":2022.00,"v":720},{"s":"Wäschbur","t":2022.10,"v":732},{"s":"Wäschbur","t":2022.20,"v":740},{"s":"Wäschbur","t":2022.30,"v":742},{"s":"Wäschbur","t":2022.40,"v":735},{"s":"Wäschbur","t":2022.50,"v":725},{"s":"Wäschbur","t":2022.60,"v":715},{"s":"Wäschbur","t":2022.70,"v":705},{"s":"Wäschbur","t":2022.80,"v":701},{"s":"Wäschbur","t":2022.90,"v":700},{"s":"Wäschbur","t":2023.00,"v":705},{"s":"Wäschbur","t":2023.10,"v":715},{"s":"Wäschbur","t":2023.20,"v":722},{"s":"Wäschbur","t":2023.30,"v":722},{"s":"Wäschbur","t":2023.40,"v":722},{"s":"Wäschbur","t":2023.50,"v":715},{"s":"Wäschbur","t":2023.60,"v":705},{"s":"Wäschbur","t":2023.70,"v":695},{"s":"Wäschbur","t":2023.80,"v":682},{"s":"Wäschbur","t":2023.90,"v":690},{"s":"Wäschbur","t":2024.00,"v":696},
{"s":"Béik","t":2004.85,"v":740},{"s":"Béik","t":2005.37,"v":618},{"s":"Béik","t":2005.69,"v":575},{"s":"Béik","t":2005.96,"v":549},{"s":"Béik","t":2006.58,"v":575},{"s":"Béik","t":2006.60,"v":538},{"s":"Béik","t":2006.85,"v":494},{"s":"Béik","t":2007.30,"v":693,"spot":1},{"s":"Béik","t":2008.26,"v":627},{"s":"Béik","t":2008.35,"v":693},{"s":"Béik","t":2008.45,"v":656},{"s":"Béik","t":2008.55,"v":632},{"s":"Béik","t":2008.62,"v":650},{"s":"Béik","t":2008.70,"v":656},{"s":"Béik","t":2008.78,"v":640},{"s":"Béik","t":2008.86,"v":627},{"s":"Béik","t":2008.94,"v":645},{"s":"Béik","t":2009.02,"v":656},{"s":"Béik","t":2009.10,"v":640},{"s":"Béik","t":2009.18,"v":646},{"s":"Béik","t":2009.26,"v":630},{"s":"Béik","t":2009.34,"v":665},{"s":"Béik","t":2009.42,"v":632},{"s":"Béik","t":2009.50,"v":625},{"s":"Béik","t":2009.58,"v":620},{"s":"Béik","t":2009.66,"v":607},{"s":"Béik","t":2009.74,"v":600},{"s":"Béik","t":2009.82,"v":597},{"s":"Béik","t":2009.90,"v":605},{"s":"Béik","t":2009.98,"v":610},{"s":"Béik","t":2010.06,"v":627},{"s":"Béik","t":2010.14,"v":630},{"s":"Béik","t":2010.22,"v":650},{"s":"Béik","t":2010.30,"v":640},{"s":"Béik","t":2010.38,"v":665},{"s":"Béik","t":2010.46,"v":636},{"s":"Béik","t":2010.54,"v":625},{"s":"Béik","t":2010.62,"v":617},{"s":"Béik","t":2010.70,"v":610},{"s":"Béik","t":2010.78,"v":600},{"s":"Béik","t":2010.86,"v":593},{"s":"Béik","t":2010.94,"v":600},{"s":"Béik","t":2011.00,"v":656,"spot":1},{"s":"Béik","t":2011.08,"v":603},{"s":"Béik","t":2011.16,"v":600},{"s":"Béik","t":2011.26,"v":570},{"s":"Béik","t":2011.36,"v":570},{"s":"Béik","t":2011.45,"v":565},{"s":"Béik","t":2011.52,"v":560},{"s":"Béik","t":2011.60,"v":555},{"s":"Béik","t":2011.70,"v":545},{"s":"Béik","t":2011.80,"v":536},{"s":"Béik","t":2012.16,"v":531},{"s":"Béik","t":2012.27,"v":546},{"s":"Béik","t":2012.43,"v":507},{"s":"Béik","t":2012.76,"v":550},{"s":"Béik","t":2012.77,"v":507},{"s":"Béik","t":2012.92,"v":541},{"s":"Béik","t":2013.08,"v":541},{"s":"Béik","t":2013.19,"v":607},{"s":"Béik","t":2013.35,"v":598},{"s":"Béik","t":2013.51,"v":617},{"s":"Béik","t":2013.56,"v":646},{"s":"Béik","t":2013.71,"v":598},{"s":"Béik","t":2013.93,"v":579},{"s":"Béik","t":2014.04,"v":684},{"s":"Béik","t":2014.20,"v":693},{"s":"Béik","t":2014.36,"v":656},{"s":"Béik","t":2014.47,"v":607},{"s":"Béik","t":2014.60,"v":615},{"s":"Béik","t":2014.77,"v":656},{"s":"Béik","t":2014.96,"v":622},{"s":"Béik","t":2015.09,"v":684},{"s":"Béik","t":2015.20,"v":665},{"s":"Béik","t":2015.44,"v":627},{"s":"Béik","t":2015.47,"v":693},{"s":"Béik","t":2015.60,"v":746},{"s":"Béik","t":2015.65,"v":564},{"s":"Béik","t":2015.76,"v":617},{"s":"Béik","t":2015.84,"v":590},{"s":"Béik","t":2015.97,"v":541},{"s":"Béik","t":2016.00,"v":488},{"s":"Béik","t":2016.13,"v":590},{"s":"Béik","t":2016.18,"v":693},{"s":"Béik","t":2016.21,"v":870},{"s":"Béik","t":2016.24,"v":885},{"s":"Béik","t":2016.29,"v":842},{"s":"Béik","t":2016.34,"v":607},{"s":"Béik","t":2016.36,"v":546},{"s":"Béik","t":2016.42,"v":632},{"s":"Béik","t":2016.50,"v":512},{"s":"Béik","t":2016.60,"v":665},{"s":"Béik","t":2016.73,"v":620},{"s":"Béik","t":2016.88,"v":632},{"s":"Béik","t":2017.00,"v":600},{"s":"Béik","t":2017.05,"v":580},{"s":"Béik","t":2017.14,"v":555},{"s":"Béik","t":2017.22,"v":540},{"s":"Béik","t":2017.28,"v":560},{"s":"Béik","t":2017.36,"v":627},{"s":"Béik","t":2017.41,"v":383},{"s":"Béik","t":2017.47,"v":540},{"s":"Béik","t":2017.53,"v":564},{"s":"Béik","t":2017.62,"v":521},{"s":"Béik","t":2017.72,"v":500},{"s":"Béik","t":2017.79,"v":512},{"s":"Béik","t":2017.86,"v":406},{"s":"Béik","t":2017.91,"v":454},{"s":"Béik","t":2017.96,"v":492},{"s":"Béik","t":2018.06,"v":579},{"s":"Béik","t":2018.12,"v":560},{"s":"Béik","t":2018.17,"v":598},{"s":"Béik","t":2018.25,"v":540},{"s":"Béik","t":2018.30,"v":510},{"s":"Béik","t":2018.38,"v":474},{"s":"Béik","t":2018.44,"v":530},{"s":"Béik","t":2018.49,"v":560},{"s":"Béik","t":2018.57,"v":550},{"s":"Béik","t":2018.65,"v":541},{"s":"Béik","t":2018.73,"v":512},{"s":"Béik","t":2018.80,"v":480},{"s":"Béik","t":2018.86,"v":454},{"s":"Béik","t":2018.91,"v":426},{"s":"Béik","t":2018.97,"v":440},{"s":"Béik","t":2019.07,"v":454},{"s":"Béik","t":2019.12,"v":500},{"s":"Béik","t":2019.18,"v":541},{"s":"Béik","t":2019.25,"v":560},{"s":"Béik","t":2019.34,"v":598},{"s":"Béik","t":2019.45,"v":661},{"s":"Béik","t":2019.47,"v":440},{"s":"Béik","t":2019.61,"v":421},{"s":"Béik","t":2019.70,"v":579},{"s":"Béik","t":2019.77,"v":435},{"s":"Béik","t":2019.86,"v":397},{"s":"Béik","t":2019.93,"v":359},{"s":"Béik","t":2020.09,"v":426},{"s":"Béik","t":2020.14,"v":492},{"s":"Béik","t":2020.19,"v":560},{"s":"Béik","t":2020.30,"v":598},{"s":"Béik","t":2020.35,"v":541},{"s":"Béik","t":2020.42,"v":454},{"s":"Béik","t":2020.51,"v":799},{"s":"Béik","t":2020.54,"v":369},{"s":"Béik","t":2020.58,"v":684},{"s":"Béik","t":2020.63,"v":646},{"s":"Béik","t":2020.74,"v":502},{"s":"Béik","t":2020.84,"v":560},{"s":"Béik","t":2020.90,"v":701},{"s":"Béik","t":2021.00,"v":650},{"s":"Béik","t":2021.03,"v":491},{"s":"Béik","t":2021.04,"v":537},{"s":"Béik","t":2021.10,"v":600},{"s":"Béik","t":2021.16,"v":660},{"s":"Béik","t":2021.22,"v":640},{"s":"Béik","t":2021.27,"v":680},{"s":"Béik","t":2021.32,"v":701},{"s":"Béik","t":2021.38,"v":609},{"s":"Béik","t":2021.43,"v":580},{"s":"Béik","t":2021.48,"v":537},{"s":"Béik","t":2021.53,"v":610},{"s":"Béik","t":2021.59,"v":629},{"s":"Béik","t":2021.65,"v":590},{"s":"Béik","t":2021.70,"v":640},{"s":"Béik","t":2021.75,"v":660},{"s":"Béik","t":2021.80,"v":620},{"s":"Béik","t":2021.86,"v":588},{"s":"Béik","t":2021.90,"v":640},{"s":"Béik","t":2021.95,"v":680},{"s":"Béik","t":2022.01,"v":600},{"s":"Béik","t":2022.07,"v":568},{"s":"Béik","t":2022.12,"v":610},{"s":"Béik","t":2022.18,"v":639},{"s":"Béik","t":2022.23,"v":660},{"s":"Béik","t":2022.28,"v":691},{"s":"Béik","t":2022.33,"v":640},{"s":"Béik","t":2022.39,"v":670},{"s":"Béik","t":2022.45,"v":610},{"s":"Béik","t":2022.50,"v":639},{"s":"Béik","t":2022.55,"v":600},{"s":"Béik","t":2022.60,"v":640},{"s":"Béik","t":2022.65,"v":610},{"s":"Béik","t":2022.71,"v":588},{"s":"Béik","t":2022.78,"v":600},{"s":"Béik","t":2022.82,"v":650},{"s":"Béik","t":2022.87,"v":629},{"s":"Béik","t":2022.95,"v":711},{"s":"Béik","t":2023.03,"v":588},{"s":"Béik","t":2023.08,"v":610},{"s":"Béik","t":2023.13,"v":640},{"s":"Béik","t":2023.19,"v":629},{"s":"Béik","t":2023.25,"v":600},{"s":"Béik","t":2023.30,"v":640},{"s":"Béik","t":2023.35,"v":660},{"s":"Béik","t":2023.40,"v":865},{"s":"Béik","t":2023.47,"v":598},{"s":"Béik","t":2023.52,"v":620},{"s":"Béik","t":2023.56,"v":557},{"s":"Béik","t":2023.62,"v":600},{"s":"Béik","t":2023.68,"v":640},{"s":"Béik","t":2023.75,"v":600},{"s":"Béik","t":2023.80,"v":590},{"s":"Béik","t":2023.84,"v":629},{"s":"Béik","t":2023.90,"v":547},{"s":"Béik","t":2023.95,"v":578}
]},
"encoding": {
 "x": {"field": "t", "type": "quantitative",
  "scale": {"domain": [2005, 2024], "nice": false, "zero": false},
  "axis": {"values": [2005,2006,2007,2008,2009,2010,2011,2012,2013,2014,2015,2016,2017,2018,2019,2020,2021,2022,2023,2024],
   "labelExpr": "'1.1.' + datum.value", "labelAngle": -45, "labelAlign": "right", "labelBaseline": "middle",
   "labelFontSize": 19, "labelColor": "#262626", "labelPadding": 6, "labelOverlap": false, "labelFlush": false,
   "tickSize": 9, "tickWidth": 2, "tickColor": "#000000", "domainColor": "#000000", "domainWidth": 2.5,
   "grid": true, "gridColor": "#7FA2DA", "gridDash": [1.5, 1.5], "gridWidth": 1, "title": null}},
 "y": {"field": "v", "type": "quantitative",
  "scale": {"domain": [0, 1600], "nice": false},
  "axis": {"values": [0,200,400,600,800,1000,1200,1400,1600],
   "labelExpr": "replace(format(datum.value, ','), ',', '.')",
   "domain": false, "ticks": false, "labelPadding": 20, "labelFontSize": 18, "labelColor": "#333333",
   "grid": true, "gridColor": "#7FA2DA", "gridDash": [1.5, 1.5], "gridWidth": 1,
   "title": "Débit (m³/d)", "titleColor": "#4F7DC3", "titleFontSize": 20, "titleFontWeight": "normal",
   "titleX": -89, "titleY": 279, "titleAngle": -90, "titleAlign": "center", "titleBaseline": "middle"}},
 "color": {"field": "s", "type": "nominal",
  "scale": {"domain": ["Kaschbur","Kazebur","Wollefsbur","Fëschweier","Wäschbur","Béik"],
            "range": ["#A5A5A5","#5682C2","#FFC000","#ED7D31","#22A84E","#7E3814"]},
  "legend": {"orient": "none", "legendX": -10, "legendY": 680, "direction": "horizontal", "title": null,
   "symbolType": "square", "symbolSize": 441, "symbolStrokeWidth": 0, "labelFontSize": 21, "labelColor": "#333333",
   "labelOffset": 13, "columnPadding": 23}}
},
"layer": [
 {"transform": [{"filter": "datum.t >= 2005"}],
  "mark": {"type": "point", "filled": true, "shape": "circle", "size": 280, "opacity": 1}},
 {"transform": [{"filter": "!datum.spot"}],
  "mark": {"type": "line", "strokeWidth": 3, "strokeDash": [2, 7], "clip": true}}
]
}
